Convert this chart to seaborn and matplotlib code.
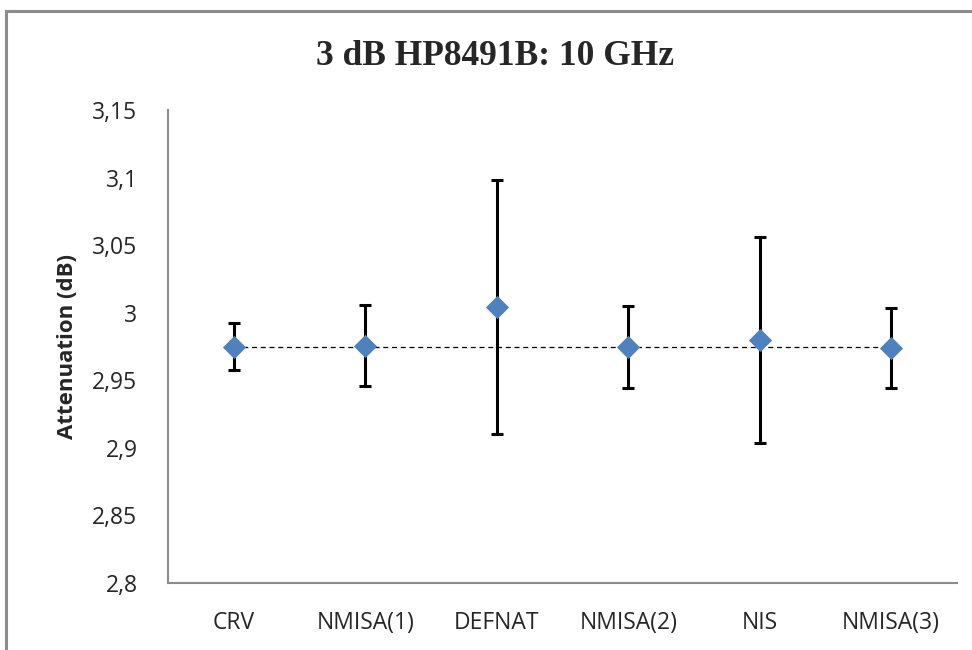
import numpy as np
import pandas as pd
import matplotlib
matplotlib.use("Agg")
import matplotlib.pyplot as plt
import seaborn as sns
from matplotlib.patches import Rectangle
from matplotlib.ticker import FuncFormatter, FixedLocator

# ------------------------------------------------------------
# Data
# ------------------------------------------------------------
labs = ["CRV", "NMISA(1)", "DEFNAT", "NMISA(2)", "NIS", "NMISA(3)"]
atten = [2.9748, 2.9757, 3.0042, 2.9746, 2.9798, 2.9738]
unc = [0.0173, 0.0300, 0.0940, 0.0300, 0.0762, 0.0295]
ref_value = 2.9746

y_ticks = [2.8, 2.85, 2.9, 2.95, 3.0, 3.05, 3.1, 3.15]

df = pd.DataFrame({"lab": labs, "atten": atten, "unc": unc})

sns.set_style("white")
plt.rcParams["font.family"] = ["Open Sans", "DejaVu Sans"]

fig = plt.figure(figsize=(9.72, 6.5), dpi=100)
ax = fig.add_axes([168 / 972, 1 - 583 / 650, (957 - 168) / 972, (583 - 110) / 650])

x = np.arange(len(labs))

# reference value dashed line
ax.plot([x[0], x[-1]], [ref_value, ref_value], color="black", lw=0.9,
        ls=(0, (4, 3)), zorder=1)

# error bars
ax.errorbar(x, df["atten"], yerr=df["unc"], fmt="none", ecolor="black",
            elinewidth=2.2, capsize=4.5, capthick=2.2, zorder=2)

# diamond markers
sns.scatterplot(data=df, x="lab", y="atten", marker="D", s=140,
                color="#4F81BD", edgecolor="#4F81BD", linewidth=0,
                ax=ax, zorder=3, legend=False)

ax.set_xlim(-0.5, len(labs) - 0.5)
ax.set_ylim(2.8, 3.15)
ax.set_yticks(y_ticks)
ax.yaxis.set_major_formatter(FuncFormatter(lambda v, p: f"{v:g}".replace(".", ",")))

ax.set_xticks(x)
ax.set_xticklabels(labs)
ax.xaxis.set_minor_locator(FixedLocator(np.arange(-0.5, len(labs), 1.0)))
ax.tick_params(axis="x", which="major", length=0, pad=20, labelsize=16.5, colors="#262626")
ax.tick_params(axis="x", which="minor", length=6, width=1.5, color="#8c8c8c", direction="out")
ax.tick_params(axis="y", length=6, width=1.5, color="#8c8c8c", direction="out",
               labelsize=16.5, pad=16, labelcolor="#262626")

ax.set_xlabel("")
ax.set_ylabel("Attenuation (dB)", fontsize=16, fontweight="bold")
ax.yaxis.set_label_coords((78 - 168) / (957 - 168), 0.5)

for side in ["top", "right"]:
    ax.spines[side].set_visible(False)
for side in ["left", "bottom"]:
    ax.spines[side].set_color("#8c8c8c")
    ax.spines[side].set_linewidth(1.5)

fig.text(495 / 972, 1 - 65 / 650, "3 dB HP8491B: 10 GHz", ha="center", va="baseline",
         fontsize=25.5, fontweight="bold", family="Liberation Serif")

# chart-area border, cropped like the reference
fig.patches.append(Rectangle((6 / 972, -0.05), 1.2, 1 - 11 / 650 + 0.05,
                             transform=fig.transFigure, fill=False,
                             edgecolor="#8c8c8c", linewidth=2.2))

fig.savefig("out.png", dpi=100)
